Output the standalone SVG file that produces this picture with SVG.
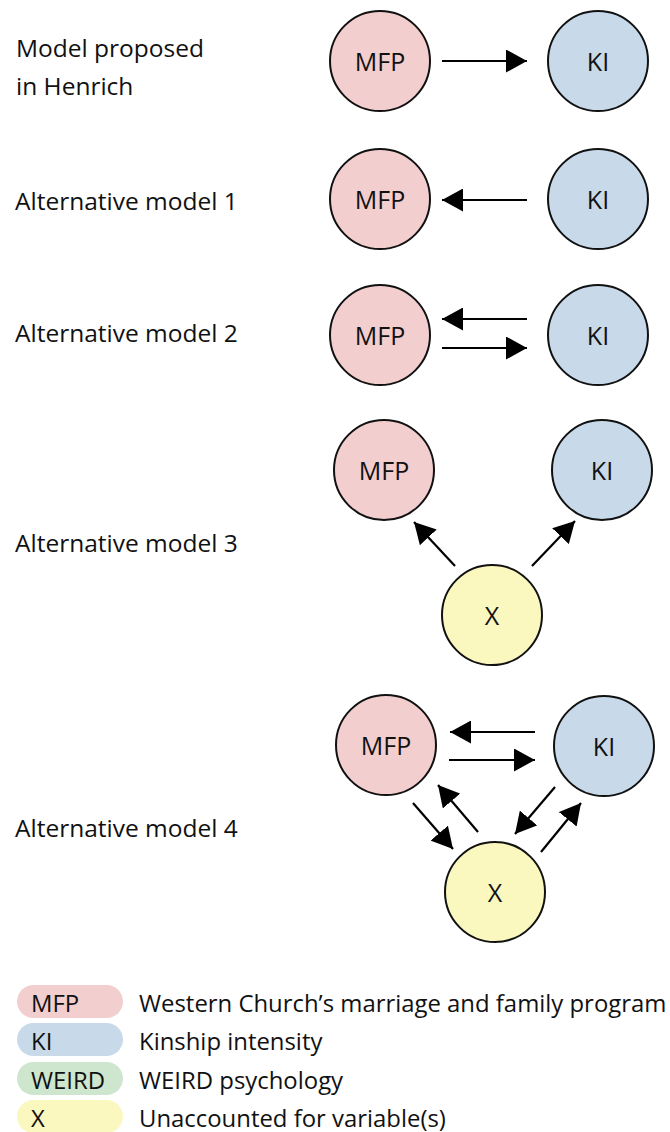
<svg xmlns="http://www.w3.org/2000/svg" width="670" height="1132" viewBox="0 0 670 1132">
<style>
text{font-family:"Open Sans","Noto Sans","Liberation Sans",sans-serif;fill:#111}
.lbl{font-size:24.5px}
.nt{font-size:25px;text-anchor:middle;dominant-baseline:central}
.lg{font-size:23.9px;dominant-baseline:central}
circle{stroke:#111;stroke-width:2}
.mfp{fill:#f2cecf}.ki{fill:#c8d9ea}.x{fill:#faf7bf}.weird{fill:#cde6cd}
.ar{stroke:#000;stroke-width:2.2;fill:none;marker-end:url(#ah)}
</style>
<defs>
<marker id="ah" markerUnits="userSpaceOnUse" markerWidth="21" markerHeight="23" refX="21" refY="11.5" orient="auto" viewBox="0 0 21 23">
<path d="M0,0 L21,11.5 L0,23 z" fill="#000"/>
</marker>
</defs>
<g id="labels">
<text class="lbl" x="16" y="57">Model proposed</text>
<text class="lbl" x="16" y="95">in Henrich</text>
<text class="lbl" x="15" y="210">Alternative model 1</text>
<text class="lbl" x="15" y="342">Alternative model 2</text>
<text class="lbl" x="15" y="552">Alternative model 3</text>
<text class="lbl" x="15" y="837">Alternative model 4</text>
</g>
<g id="m0-mfp"><circle class="mfp" cx="380" cy="61" r="50"/><text class="nt" x="380" y="61">MFP</text></g>
<g id="m0-ki"><circle class="ki" cx="598" cy="61" r="50"/><text class="nt" x="598" y="61">KI</text></g>
<g id="m1-mfp"><circle class="mfp" cx="380" cy="199" r="50"/><text class="nt" x="380" y="199">MFP</text></g>
<g id="m1-ki"><circle class="ki" cx="598" cy="199" r="50"/><text class="nt" x="598" y="199">KI</text></g>
<g id="m2-mfp"><circle class="mfp" cx="380" cy="335" r="50"/><text class="nt" x="380" y="335">MFP</text></g>
<g id="m2-ki"><circle class="ki" cx="598" cy="335" r="50"/><text class="nt" x="598" y="335">KI</text></g>
<g id="m3-mfp"><circle class="mfp" cx="384" cy="470" r="50"/><text class="nt" x="384" y="470">MFP</text></g>
<g id="m3-ki"><circle class="ki" cx="602" cy="470" r="50"/><text class="nt" x="602" y="470">KI</text></g>
<g id="m3-x"><circle class="x" cx="492" cy="615" r="50"/><text class="nt" x="492" y="615">X</text></g>
<g id="m4-mfp"><circle class="mfp" cx="386" cy="745" r="50"/><text class="nt" x="386" y="745">MFP</text></g>
<g id="m4-ki"><circle class="ki" cx="604" cy="746" r="50"/><text class="nt" x="604" y="746">KI</text></g>
<g id="m4-x"><circle class="x" cx="495" cy="892" r="50"/><text class="nt" x="495" y="892">X</text></g>
<g id="connectors">
<line class="ar" x1="442" y1="61" x2="527" y2="61"/>
<line class="ar" x1="527" y1="200" x2="442" y2="200"/>
<line class="ar" x1="527" y1="319" x2="442" y2="319"/>
<line class="ar" x1="442" y1="348" x2="527" y2="348"/>
<line class="ar" x1="455" y1="566" x2="414" y2="522"/>
<line class="ar" x1="532" y1="566" x2="575" y2="521"/>
<line class="ar" x1="535" y1="732" x2="450" y2="732"/>
<line class="ar" x1="449" y1="760" x2="535" y2="760"/>
<line class="ar" x1="413" y1="803" x2="453" y2="849"/>
<line class="ar" x1="478" y1="832" x2="438" y2="785"/>
<line class="ar" x1="555" y1="787" x2="515" y2="834"/>
<line class="ar" x1="541" y1="852" x2="581" y2="803"/>
</g>
<g id="legend">
<g id="lg-mfp"><rect class="mfp" x="17" y="985" width="106" height="33" rx="16.5"/><text class="lg" x="31" y="1002">MFP</text><text class="lg" x="139" y="1002">Western Church’s marriage and family program</text></g>
<g id="lg-ki"><rect class="ki" x="17" y="1023" width="106" height="33" rx="16.5"/><text class="lg" x="31" y="1040">KI</text><text class="lg" x="139" y="1040">Kinship intensity</text></g>
<g id="lg-weird"><rect class="weird" x="17" y="1062" width="106" height="33" rx="16.5"/><text class="lg" x="31" y="1079">WEIRD</text><text class="lg" x="139" y="1079">WEIRD psychology</text></g>
<g id="lg-x"><rect class="x" x="17" y="1100" width="106" height="33" rx="16.5"/><text class="lg" x="31" y="1117">X</text><text class="lg" x="139" y="1117">Unaccounted for variable(s)</text></g>
</g>
</svg>
